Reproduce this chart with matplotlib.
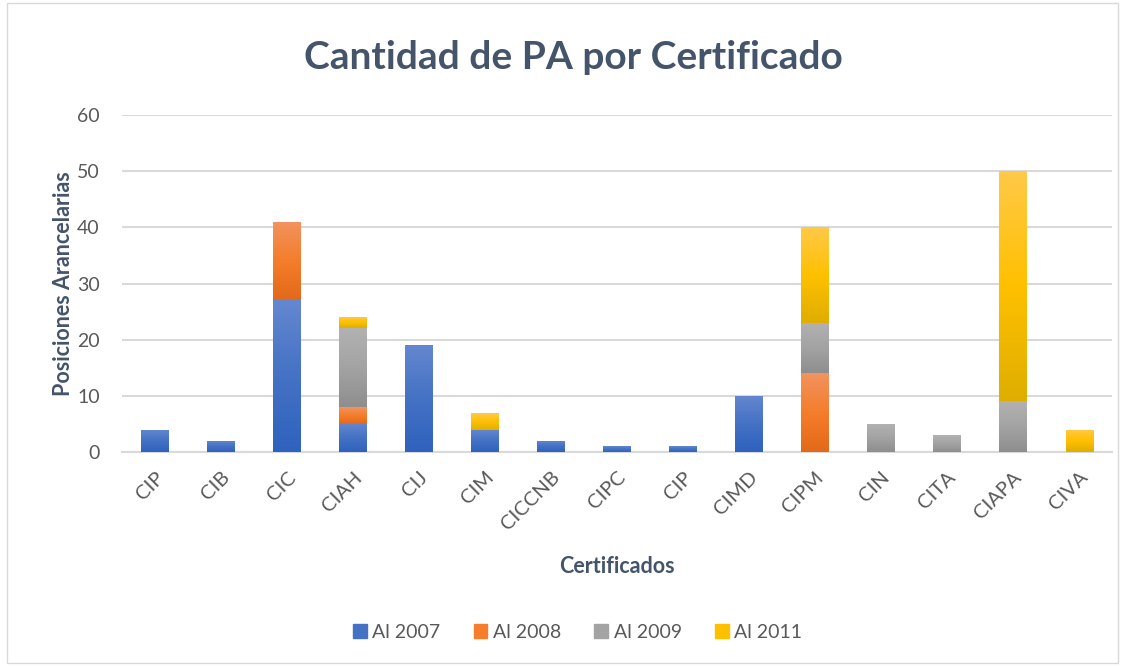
import numpy as np
import matplotlib
matplotlib.use("Agg")
import matplotlib.pyplot as plt
from matplotlib.colors import LinearSegmentedColormap
from matplotlib.patches import Rectangle

plt.rcParams['font.family'] = ['Lato', 'DejaVu Sans']

# ── Datos ────────────────────────────────────────────────────────────────
certificados = ["CIP", "CIB", "CIC", "CIAH", "CIJ", "CIM", "CICCNB", "CIPC",
                "CIP", "CIMD", "CIPM", "CIN", "CITA", "CIAPA", "CIVA"]
al_2007 = [4, 2, 27, 5, 19, 4, 2, 1, 1, 10, 0, 0, 0, 0, 0]
al_2008 = [0, 0, 14, 3, 0, 0, 0, 0, 0, 0, 14, 0, 0, 0, 0]
al_2009 = [0, 0, 0, 14, 0, 0, 0, 0, 0, 0, 9, 5, 3, 9, 0]
al_2011 = [0, 0, 0, 2, 0, 3, 0, 0, 0, 0, 17, 0, 0, 41, 4]
series = ["Al 2007", "Al 2008", "Al 2009", "Al 2011"]

# colores (arriba, medio, abajo) para imitar el degradado de Excel
gradientes = [
    ("#6587D0", "#4472C4", "#2F62BE"),
    ("#F2935F", "#F57D2B", "#E3691A"),
    ("#B2B2B2", "#A3A3A3", "#8E8E8E"),
    ("#FFC949", "#FFC000", "#DFAE00"),
]
texto = "#44546A"
gris = "#595959"

fig = plt.figure(figsize=(11.26, 6.66), dpi=100)
ax = fig.add_axes([0.1083, 0.3213, 0.8793, 0.506])

x = np.arange(len(certificados))
bottom = np.zeros(len(x))
handles = []
for vals, name, (c1, c2, c3) in zip([al_2007, al_2008, al_2009, al_2011], series, gradientes):
    vals = np.array(vals, dtype=float)
    bars = ax.bar(x, vals, 0.41, bottom=bottom, color=c2, label=name, zorder=2)
    cmap = LinearSegmentedColormap.from_list(name, [c3, c2, c1])
    grad = np.linspace(0, 1, 256).reshape(-1, 1)
    for b in bars:
        if b.get_height() <= 0:
            continue
        x0, y0 = b.get_x(), b.get_y()
        im = ax.imshow(grad, cmap=cmap, aspect="auto", origin="lower",
                       extent=(x0, x0 + b.get_width(), y0, y0 + b.get_height()),
                       zorder=3)
        im.set_clip_path(b)
    handles.append(Rectangle((0, 0), 1, 1, color=c2))
    bottom += vals

ax.set_xlim(-0.5, len(x) - 0.5)
ax.set_ylim(0, 60)
ax.set_yticks(range(0, 61, 10))
ax.yaxis.grid(True, color="#D9D9D9", linewidth=1.5, zorder=0)
ax.set_axisbelow(True)
for s in ["top", "right", "left"]:
    ax.spines[s].set_visible(False)
ax.spines["bottom"].set_color("#D9D9D9")
ax.spines["bottom"].set_linewidth(1.5)
ax.tick_params(axis="both", length=0, labelsize=14, labelcolor=gris)
ax.tick_params(axis="y", pad=16)
ax.set_xticks(x)
ax.set_xticklabels(certificados, rotation=45, ha="right", va="top",
                   rotation_mode="anchor")
ax.tick_params(axis="x", labelsize=14.5, pad=12)

ax.set_ylabel("Posiciones Arancelarias", fontsize=15.5, fontweight="bold",
              color=texto, labelpad=2)
ax.set_xlabel("Certificados", fontsize=15.5, fontweight="bold", color=texto,
              labelpad=16)

fig.text(0.509, 0.913, "Cantidad de PA por Certificado", ha="center", va="center",
         fontsize=28, fontweight="bold", color=texto)

fig.legend(handles, series, loc="center", bbox_to_anchor=(0.513, 0.051), ncol=4,
           frameon=False, fontsize=14, labelcolor=gris, handlelength=0.7,
           handleheight=0.7, handletextpad=0.3, columnspacing=1.7)

fig.add_artist(Rectangle((0.006, 0.005), 0.987, 0.99, transform=fig.transFigure,
                         fill=False, edgecolor="#D9D9D9", linewidth=1))

fig.savefig("out.png", dpi=100)
